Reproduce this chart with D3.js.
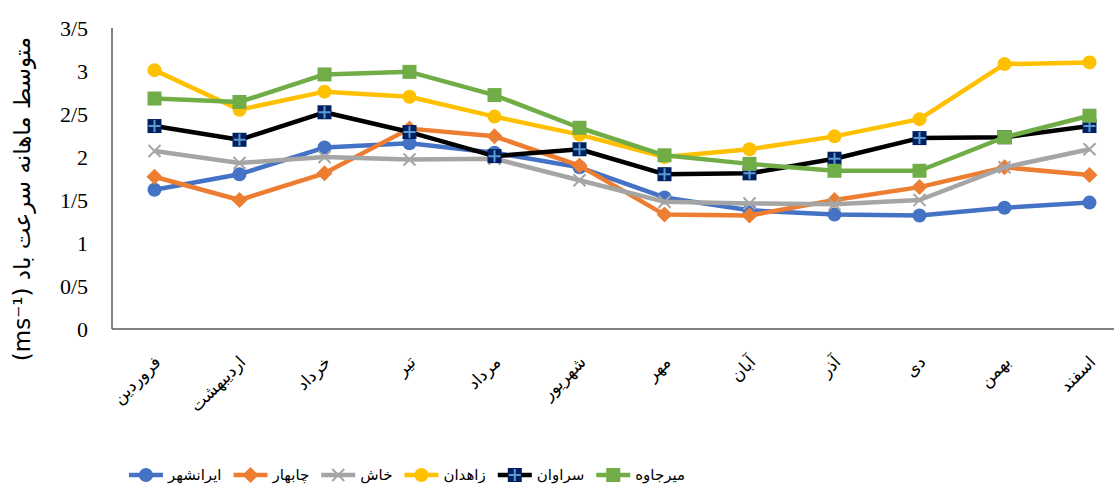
<!DOCTYPE html>
<html>
<head>
<meta charset="utf-8">
<script src="https://cdn.jsdelivr.net/npm/d3@7"></script>
<style>
  body { margin: 0; background: #fff; }
  svg { display: block; }
</style>
</head>
<body>
<svg id="chart" width="1114" height="491"></svg>
<script>
const months = ["فروردین", "اردیبهشت", "خرداد", "تیر", "مرداد", "شهریور",
  "مهر", "آبان", "آذر", "دی", "بهمن", "اسفند"];
const yTicks = [0, 0.5, 1, 1.5, 2, 2.5, 3, 3.5];
const yTickLabels = ["0", "0/5", "1", "1/5", "2", "2/5", "3", "3/5"];

const iranshahr = [1.62, 1.80, 2.11, 2.16, 2.05, 1.88, 1.53, 1.38, 1.33, 1.32, 1.41, 1.47];
const chabahar = [1.77, 1.50, 1.81, 2.33, 2.24, 1.90, 1.33, 1.32, 1.50, 1.65, 1.88, 1.79];
const khash = [2.07, 1.93, 2.00, 1.97, 1.98, 1.73, 1.48, 1.46, 1.45, 1.50, 1.88, 2.09];
const zahedan = [3.01, 2.55, 2.76, 2.70, 2.47, 2.26, 2.00, 2.09, 2.24, 2.44, 3.08, 3.10];
const saravan = [2.36, 2.20, 2.52, 2.29, 2.01, 2.09, 1.80, 1.81, 1.98, 2.22, 2.23, 2.36];
const mirjaveh = [2.68, 2.64, 2.96, 2.99, 2.72, 2.34, 2.02, 1.92, 1.84, 1.84, 2.23, 2.48];

const series = [
  { name: "ایرانشهر", values: iranshahr, color: "#4472c4", marker: "circle" },
  { name: "چابهار", values: chabahar, color: "#ed7d31", marker: "diamond" },
  { name: "خاش", values: khash, color: "#a5a5a5", marker: "x" },
  { name: "زاهدان", values: zahedan, color: "#ffc000", marker: "circle" },
  { name: "سراوان", values: saravan, color: "#000000", marker: "plus" },
  { name: "میرجاوه", values: mirjaveh, color: "#70ad47", marker: "square" }
];

const svg = d3.select("#chart");
const plotLeft = 112, plotRight = 1132, plotTop = 28, plotBottom = 329;

const x = d3.scaleBand().domain(months).range([plotLeft, plotRight]);
const y = d3.scaleLinear().domain([0, 3.5]).range([plotBottom, plotTop]);

// axes
svg.append("line")
  .attr("x1", plotLeft).attr("x2", plotLeft)
  .attr("y1", y(3.5)).attr("y2", plotBottom)
  .attr("stroke", "#595959").attr("stroke-width", 1.5);
svg.append("line")
  .attr("x1", plotLeft).attr("x2", 1114)
  .attr("y1", plotBottom).attr("y2", plotBottom)
  .attr("stroke", "#595959").attr("stroke-width", 1.5);

svg.selectAll(".ytick")
  .data(yTicks)
  .enter()
  .append("text")
  .attr("x", 88)
  .attr("y", (d) => y(d))
  .attr("dy", "0.35em")
  .attr("text-anchor", "end")
  .attr("font-family", "Liberation Serif, serif")
  .attr("font-size", 22)
  .attr("fill", "#000")
  .text((d, i) => yTickLabels[i]);

svg.selectAll(".xtick")
  .data(months)
  .enter()
  .append("text")
  .attr("transform", (d) => `translate(${x(d) + x.bandwidth() / 2 + 3},${plotBottom + 30}) rotate(-45)`)
  .attr("text-anchor", "end")
  .attr("dy", "0.35em")
  .attr("font-family", "DejaVu Sans, sans-serif")
  .attr("font-size", 17)
  .attr("fill", "#000")
  .text((d) => d);

// y title
svg.append("text")
  .attr("transform", `translate(30,199) rotate(-90)`)
  .attr("text-anchor", "middle")
  .attr("direction", "rtl")
  .attr("font-family", "DejaVu Sans, sans-serif")
  .attr("font-size", 23)
  .attr("fill", "#000")
  .text("متوسط ماهانه سرعت باد (ms⁻¹)");

const line = d3.line()
  .x((d, i) => x(months[i]) + x.bandwidth() / 2)
  .y((d) => y(d));

function drawMarker(g, type, color, cx, cy) {
  if (type === "circle") {
    g.append("circle").attr("cx", cx).attr("cy", cy).attr("r", 7).attr("fill", color);
  } else if (type === "diamond") {
    g.append("path")
      .attr("d", `M${cx},${cy - 8}L${cx + 8},${cy}L${cx},${cy + 8}L${cx - 8},${cy}Z`)
      .attr("fill", color);
  } else if (type === "square") {
    g.append("rect").attr("x", cx - 7).attr("y", cy - 7)
      .attr("width", 14).attr("height", 14).attr("fill", color);
  } else if (type === "x") {
    g.append("path")
      .attr("d", `M${cx - 6},${cy - 6}L${cx + 6},${cy + 6}M${cx - 6},${cy + 6}L${cx + 6},${cy - 6}`)
      .attr("stroke", color).attr("stroke-width", 2);
  } else if (type === "plus") {
    g.append("rect").attr("x", cx - 7).attr("y", cy - 7)
      .attr("width", 14).attr("height", 14).attr("fill", "#002060");
    g.append("path")
      .attr("d", `M${cx - 6},${cy}L${cx + 6},${cy}M${cx},${cy - 6}L${cx},${cy + 6}`)
      .attr("stroke", "#5b9bd5").attr("stroke-width", 2);
  }
}

series.forEach((s) => {
  const g = svg.append("g");
  g.append("path")
    .datum(s.values)
    .attr("d", line)
    .attr("fill", "none")
    .attr("stroke", s.color)
    .attr("stroke-width", 4.5)
    .attr("stroke-linejoin", "round");
  s.values.forEach((v, i) => {
    drawMarker(g, s.marker, s.color, x(months[i]) + x.bandwidth() / 2, y(v));
  });
});

// legend, laid out from the measured label widths and centred
const legendY = 475;
const legend = svg.append("g");
let lx = 0;
series.forEach((s) => {
  const g = legend.append("g");
  g.append("line")
    .attr("x1", lx).attr("x2", lx + 34)
    .attr("y1", legendY).attr("y2", legendY)
    .attr("stroke", s.color).attr("stroke-width", 4.5);
  drawMarker(g, s.marker, s.color, lx + 17, legendY);
  const t = g.append("text")
    .attr("x", lx + 39)
    .attr("y", legendY)
    .attr("dy", "0.35em")
    .attr("font-family", "DejaVu Sans, sans-serif")
    .attr("font-size", 15)
    .attr("fill", "#000")
    .text(s.name);
  lx += 39 + t.node().getComputedTextLength() + 12;
});
legend.attr("transform", `translate(${407 - (lx - 12) / 2},0)`);
</script>
</body>
</html>
